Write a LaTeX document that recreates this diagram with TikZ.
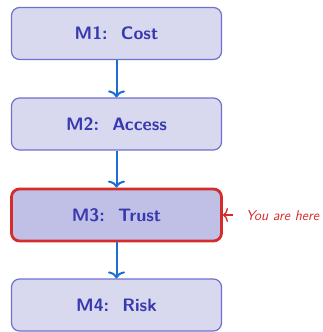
\documentclass[tikz,border=0pt]{standalone}
\usetikzlibrary{arrows.meta}
\definecolor{boxfill}{HTML}{D8D8EF}
\definecolor{boxline}{HTML}{7070D0}
\definecolor{boxtext}{HTML}{3838B0}
\definecolor{herefill}{HTML}{C0C0E6}
\definecolor{herered}{HTML}{D42B2B}
\definecolor{flowblue}{HTML}{1C6FD1}
\tikzset{
  module/.style={draw=boxline, fill=boxfill, line width=1.2pt, rounded corners=8pt,
    minimum width=210pt, minimum height=52pt, inner sep=0pt,
    text=boxtext, font=\fontsize{18}{21}\selectfont\sffamily\bfseries},
  current/.style={module, draw=herered, fill=herefill, line width=2.8pt},
  flow/.style={draw=flowblue, line width=2pt, -{To[length=7pt,width=17pt]}},
  marker/.style={draw=herered, line width=1.3pt, -{To[length=5pt,width=14pt]}},
  note/.style={text=herered, inner sep=0pt, anchor=west,
    font=\fontsize{14.2}{16}\selectfont\sffamily\itshape}
}
\begin{document}
\begin{tikzpicture}[x=1pt,y=-1pt]
  \useasboundingbox (0,0) rectangle (323,332);
  \node[module]  (m1) at (116.5,33.5) {M1:\ \ Cost};
  \node[module]  (m2) at (116.5,124)  {M2:\ \ Access};
  \node[current] (m3) at (116.5,215)  {M3:\ \ Trust};
  \node[module]  (m4) at (116.5,305)  {M4:\ \ Risk};
  \draw[flow] (m1) -- (m2);
  \draw[flow] (m2) -- (m3);
  \draw[flow] (m3) -- (m4);
  \node[note] (here) at (246,215.5) {You are here};
  \coordinate (tail) at (233,215);
  \draw[marker] (tail) -- (m3.east);
\end{tikzpicture}
\end{document}
